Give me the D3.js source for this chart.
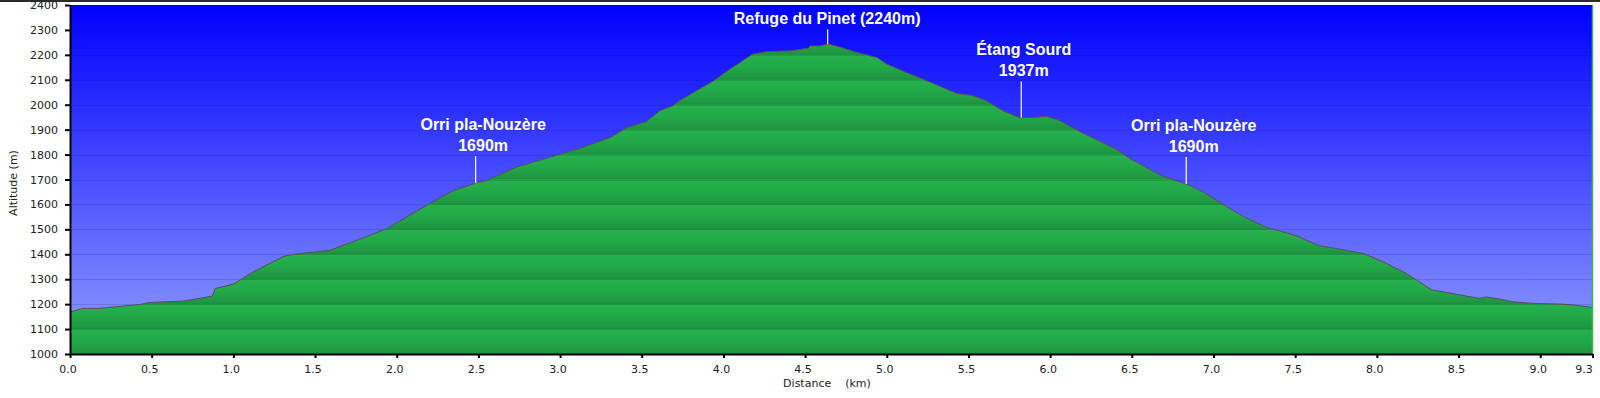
<!DOCTYPE html>
<html>
<head>
<meta charset="utf-8">
<script src="https://cdn.jsdelivr.net/npm/d3@7"></script>
<style>
  body { margin: 0; background: #fff; }
  svg { display: block; }
</style>
</head>
<body>
<svg></svg>
<script>
// profile: distance (km) / altitude (m)
let distances = [0.00, 0.08, 0.18, 0.43, 0.49, 0.69, 0.80, 0.87, 0.89, 1.00,
  1.12, 1.31, 1.37, 1.59, 1.71, 1.82, 1.94, 2.06, 2.20, 2.35,
  2.49, 2.55, 2.73, 3.04, 3.14, 3.31, 3.41, 3.53, 3.61, 3.69,
  3.73, 3.94, 4.04, 4.18, 4.27, 4.41, 4.52, 4.53, 4.59, 4.64,
  4.67, 4.71, 4.82, 4.94, 5.00, 5.12, 5.22, 5.35, 5.43, 5.53,
  5.61, 5.71, 5.81, 5.90, 5.98, 6.05, 6.21, 6.40, 6.49, 6.68,
  6.84, 6.94, 7.10, 7.19, 7.33, 7.50, 7.64, 7.92, 8.06, 8.18,
  8.34, 8.41, 8.55, 8.63, 8.67, 8.76, 8.84, 8.96, 9.14, 9.20, 9.32]
let altitudes = [1169, 1183, 1183, 1199, 1207, 1212, 1224, 1232, 1263, 1280,
  1329, 1392, 1400, 1416, 1445, 1472, 1503, 1549, 1603, 1656,
  1687, 1696, 1749, 1809, 1829, 1869, 1909, 1933, 1976, 1996,
  2016, 2096, 2143, 2203, 2213, 2216, 2227, 2236, 2236, 2243,
  2239, 2232, 2209, 2189, 2163, 2129, 2103, 2067, 2045, 2036,
  2016, 1976, 1949, 1949, 1953, 1939, 1883, 1823, 1783, 1716,
  1680, 1649, 1583, 1549, 1507, 1476, 1436, 1403, 1363, 1323,
  1256, 1249, 1232, 1223, 1229, 1219, 1209, 1203, 1200, 1197, 1187]

let xTicks = [0, 0.5, 1.0, 1.5, 2.0, 2.5, 3.0, 3.5, 4.0, 4.5, 5.0, 5.5, 6.0, 6.5, 7.0, 7.5, 8.0, 8.5, 9.0, 9.32]
let yTicks = [1000, 1100, 1200, 1300, 1400, 1500, 1600, 1700, 1800, 1900, 2000, 2100, 2200, 2300, 2400]

// waypoints
let wpNames = [["Orri pla-Nouzère", "1690m"], ["Refuge du Pinet (2240m)"], ["Étang Sourd", "1937m"], ["Orri pla-Nouzère", "1690m"]]
let wpDist = [2.48, 4.635, 5.82, 6.83]

let width = 1600
let height = 398
let plotLeft = 70
let plotRight = 1592.5
let plotTop = 5
let plotBottom = 354

let svg = d3.select('svg').attr('width', width).attr('height', height)

let xScale = d3.scaleLinear().domain([0, 9.32]).range([plotLeft, plotRight])
let yScale = d3.scaleLinear().domain([1000, 2400]).range([plotBottom, plotTop])

let points = distances.map((d, i) => [d, altitudes[i]])

// gradients
let defs = svg.append('defs')
let sky = defs.append('linearGradient').attr('id', 'sky')
  .attr('gradientUnits', 'userSpaceOnUse')
  .attr('x1', 0).attr('x2', 0).attr('y1', plotTop).attr('y2', plotBottom)
sky.append('stop').attr('offset', 0).attr('stop-color', '#0000ff')
sky.append('stop').attr('offset', 1).attr('stop-color', '#929eff')

let bandGrad = defs.append('linearGradient').attr('id', 'bandGrad')
  .attr('x1', 0).attr('x2', 0).attr('y1', 0).attr('y2', 1)
bandGrad.append('stop').attr('offset', 0).attr('stop-color', '#26b24e')
bandGrad.append('stop').attr('offset', 0.5).attr('stop-color', '#22a848')
bandGrad.append('stop').attr('offset', 0.88).attr('stop-color', '#1f9843')
bandGrad.append('stop').attr('offset', 1).attr('stop-color', '#1d8e3d')

let bandH = yScale(1000) - yScale(1100)
let band = defs.append('pattern').attr('id', 'band')
  .attr('patternUnits', 'userSpaceOnUse')
  .attr('x', 0).attr('y', yScale(2400))
  .attr('width', 20).attr('height', bandH)
band.append('rect').attr('width', 20).attr('height', bandH).attr('fill', 'url(#bandGrad)')

// top border
svg.append('rect').attr('x', 0).attr('y', 0).attr('width', width).attr('height', 2).attr('fill', '#2b2b2b')

// sky
svg.append('rect')
  .attr('x', plotLeft).attr('y', plotTop)
  .attr('width', plotRight - plotLeft).attr('height', plotBottom - plotTop)
  .attr('fill', 'url(#sky)')

// terrain
let area = d3.area()
  .x(d => xScale(d[0]))
  .y0(plotBottom)
  .y1(d => yScale(d[1]))
svg.append('path').datum(points).attr('d', area).attr('fill', 'url(#band)')

// grid
svg.append('g').selectAll('line')
  .data(yTicks.slice(1))
  .enter()
  .append('line')
  .attr('x1', plotLeft).attr('x2', plotRight)
  .attr('y1', d => Math.round(yScale(d)) + 0.5)
  .attr('y2', d => Math.round(yScale(d)) + 0.5)
  .attr('stroke', '#000033')
  .attr('stroke-opacity', 0.13)

let line = d3.line().x(d => xScale(d[0])).y(d => yScale(d[1]))
svg.append('path').datum(points).attr('d', line)
  .attr('fill', 'none').attr('stroke', '#5a4f55').attr('stroke-width', 1)

// right edge
svg.append('line').attr('x1', plotRight).attr('x2', plotRight).attr('y1', plotTop).attr('y2', plotBottom)
  .attr('stroke', '#3fb455').attr('stroke-width', 1.5)

// axes
let xAxis = d3.axisBottom(xScale).tickValues(xTicks).tickFormat(d3.format('.1f')).tickSize(4).tickSizeOuter(0)
let gx = svg.append('g').attr('transform', 'translate(0,' + plotBottom + ')').call(xAxis)
gx.select('.domain').attr('stroke', '#000').attr('stroke-width', 2)
gx.selectAll('.tick line').attr('stroke', '#000').attr('stroke-width', 2)
gx.selectAll('.tick text')
  .attr('font-family', 'DejaVu Sans, Verdana, sans-serif').attr('font-size', 11).attr('fill', '#222')
  .attr('dy', '1.05em')
  .attr('dx', (d, i) => i == xTicks.length - 1 ? -9 : -2.5)

let yAxis = d3.axisLeft(yScale).tickValues(yTicks).tickFormat(d3.format('d')).tickSize(5).tickSizeOuter(0)
let gy = svg.append('g').attr('transform', 'translate(' + plotLeft + ',0)').call(yAxis)
gy.select('.domain').attr('stroke', '#000').attr('stroke-width', 2)
gy.selectAll('.tick line').attr('stroke', '#000').attr('stroke-width', 2)
gy.selectAll('.tick text')
  .attr('font-family', 'DejaVu Sans, Verdana, sans-serif').attr('font-size', 11).attr('fill', '#222')
  .attr('x', -12)

svg.append('text')
  .attr('x', 827).attr('y', 387)
  .attr('text-anchor', 'middle')
  .attr('font-family', 'DejaVu Sans, Verdana, sans-serif').attr('font-size', 11).attr('fill', '#222')
  .attr('xml:space', 'preserve')
  .text('Distance    (km)')

svg.append('text')
  .attr('transform', 'translate(17,183) rotate(-90)')
  .attr('text-anchor', 'middle')
  .attr('font-family', 'DejaVu Sans, Verdana, sans-serif').attr('font-size', 11).attr('fill', '#222')
  .text('Altitude (m)')

// waypoint labels
let bisect = d3.bisector(d => d[0]).left
let groundAt = (d) => {
  let i = bisect(points, d)
  let a = points[i - 1], b = points[i]
  return a[1] + (b[1] - a[1]) * (d - a[0]) / (b[0] - a[0])
}
let stemLen = [27, 15, 36, 27]
let textShift = [8, 0, 3, 8]

wpDist.forEach((d, i) => {
  let x = xScale(d)
  let yGround = yScale(groundAt(d))
  let yTop = yGround - stemLen[i]
  svg.append('line')
    .attr('x1', x + 0.5).attr('x2', x + 0.5)
    .attr('y1', yTop).attr('y2', yGround)
    .attr('stroke', '#fff').attr('stroke-width', 1.2)
  let names = wpNames[i]
  names.forEach((t, j) => {
    svg.append('text')
      .attr('x', x + textShift[i])
      .attr('y', yTop - 5 - (names.length - 1 - j) * 21)
      .attr('text-anchor', 'middle')
      .attr('font-family', 'Liberation Sans, Arial, sans-serif')
      .attr('font-weight', 'bold')
      .attr('font-size', 16)
      .attr('fill', '#fff')
      .text(t)
  })
})
</script>
</body>
</html>
